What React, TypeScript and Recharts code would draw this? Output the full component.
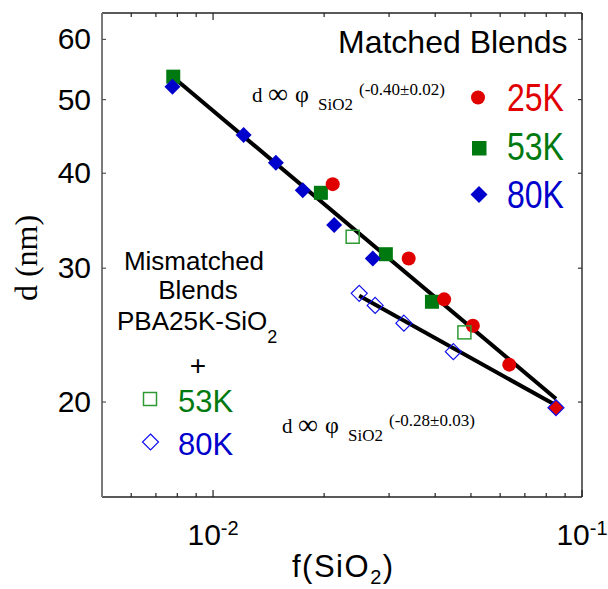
import React from "react";
import { ScatterChart, Scatter, XAxis, YAxis } from "recharts";

const W = 608;
const H = 589;
const SANS = "'Liberation Sans', Arial, sans-serif";
const SERIF = "'Liberation Serif', 'Times New Roman', serif";

const RED = "#e00000";
const GREEN = "#007a10";
const BLUE = "#0000cc";
const OPEN_GREEN = "#2f9a34";
const OPEN_BLUE = "#1010ee";

// matched blends (filled symbols)
const matched25K = [
  { phi: 0.0211, d: 38.7 },
  { phi: 0.0339, d: 30.9 },
  { phi: 0.0423, d: 27.3 },
  { phi: 0.0506, d: 25.2 },
  { phi: 0.0635, d: 22.4 },
];
const matched53K = [
  { phi: 0.0078, d: 53.6 },
  { phi: 0.0196, d: 37.7 },
  { phi: 0.0294, d: 31.3 },
  { phi: 0.0392, d: 27.1 },
];
const matched80K = [
  { phi: 0.00776, d: 52.0 },
  { phi: 0.0121, d: 44.9 },
  { phi: 0.0148, d: 41.3 },
  { phi: 0.0175, d: 38.0 },
  { phi: 0.0213, d: 34.2 },
  { phi: 0.0271, d: 30.9 },
];

// mismatched blends PBA25K-SiO2 + ... (open symbols)
const mismatched53K = [
  { phi: 0.0239, d: 33.0 },
  { phi: 0.048, d: 24.7 },
];
const mismatched80K = [
  { phi: 0.0249, d: 27.8 },
  { phi: 0.0275, d: 26.8 },
  { phi: 0.0329, d: 25.4 },
  { phi: 0.0448, d: 23.3 },
];
// shared end point of all series
const commonPoint = [{ phi: 0.085, d: 19.66 }];

// power-law fits
const matchedFit = [
  { phi: 0.0078, d: 53.5 },
  { phi: 0.085, d: 20.2 },
];
const mismatchedFit = [
  { phi: 0.0249, d: 27.6 },
  { phi: 0.085, d: 19.8 },
];

const xDomain = [0.005, 0.1];
const yDomain = [15, 65];
const xTicks = [0.006, 0.007, 0.008, 0.009, 0.01, 0.02, 0.03, 0.04, 0.05, 0.06, 0.07, 0.08, 0.09, 0.1];
const xMajorTicks = [0.01, 0.1];
const xMajorExponents = ["-2", "-1"];
const yTicks = [20, 30, 40, 50, 60];

const majorIndex = (v: number) => xMajorTicks.findIndex((t) => Math.abs(t - v) < 1e-9);

function BottomTick(props: any) {
  const { x, y, payload } = props;
  const i = majorIndex(payload.value);
  return (
    <g>
      <line x1={x} x2={x} y1={y} y2={y - (i >= 0 ? 7 : 4)} stroke="#222" strokeWidth={1.2} />
      {i >= 0 && (
        <text x={x} y={y + 48} textAnchor="middle" fontFamily={SANS} fontSize={30} fill="#000">
          10
          <tspan fontSize={20} dy={-10}>
            {xMajorExponents[i]}
          </tspan>
        </text>
      )}
    </g>
  );
}

function TopTick(props: any) {
  const { x, y, payload } = props;
  const major = majorIndex(payload.value) >= 0;
  return <line x1={x} x2={x} y1={y} y2={y + (major ? 7 : 4)} stroke="#222" strokeWidth={1.2} />;
}

function LeftTick(props: any) {
  const { x, y, payload } = props;
  return (
    <g>
      <line x1={x} x2={x + 4} y1={y} y2={y} stroke="#555" strokeWidth={1.2} />
      <text x={x - 11} y={y + 10} textAnchor="end" fontFamily={SANS} fontSize={30} fill="#000">
        {payload.value}
      </text>
    </g>
  );
}

function RightTick(props: any) {
  const { x, y } = props;
  return <line x1={x} x2={x - 4} y1={y} y2={y} stroke="#333" strokeWidth={1.2} />;
}

const diamond = (cx: number, cy: number, r: number) =>
  `${cx},${cy - r} ${cx + r},${cy} ${cx},${cy + r} ${cx - r},${cy}`;

const FilledCircle = (p: any) => <circle cx={p.cx} cy={p.cy} r={7} fill={RED} />;
const FilledSquare = (p: any) => <rect x={p.cx - 7} y={p.cy - 7} width={14} height={14} fill={GREEN} />;
const FilledDiamond = (p: any) => <polygon points={diamond(p.cx, p.cy, 8)} fill={BLUE} />;
const OpenSquare = (p: any) => (
  <rect x={p.cx - 6.5} y={p.cy - 6.5} width={13} height={13} fill="none" stroke={OPEN_GREEN} strokeWidth={1.5} />
);
const OpenDiamond = (p: any) => (
  <polygon points={diamond(p.cx, p.cy, 8)} fill="none" stroke={OPEN_BLUE} strokeWidth={1.2} />
);
const CommonMark = (p: any) => (
  <polygon points={diamond(p.cx, p.cy, 8)} fill={RED} stroke={OPEN_BLUE} strokeWidth={1.2} />
);
const NoMark = () => <g />;

function Equation({ x, y, exponent }: { x: number; y: number; exponent: string }) {
  return (
    <g fontFamily={SERIF} fill="#000">
      <text x={x} y={y} fontSize={21}>d</text>
      <text x={x + 16} y={y + 1} fontSize={28}>∞</text>
      <text x={x + 43} y={y} fontSize={24}>φ</text>
      <text x={x + 66} y={y + 8} fontSize={17}>SiO2</text>
      <text x={x + 107} y={y - 7} fontSize={17}>{exponent}</text>
    </g>
  );
}

function Annotations() {
  return (
    <svg width={W} height={H} style={{ position: "absolute", left: 0, top: 0, pointerEvents: "none" }}>
      {/* axis titles */}
      <text
        transform="translate(37,258) rotate(-90)"
        textAnchor="middle"
        fontFamily={SERIF}
        fontSize={32}
        fill="#000"
      >
        d (nm)
      </text>
      <text x={292} y={577} fontFamily={SANS} fontSize={31} letterSpacing={1.5} fill="#000">
        f(SiO
        <tspan fontSize={20} dy={7}>
          2
        </tspan>
        <tspan dy={-7}>)</tspan>
      </text>

      {/* matched legend */}
      <text x={338} y={53} fontFamily={SANS} fontSize={32} fill="#000">
        Matched Blends
      </text>
      <circle cx={478} cy={97.5} r={7} fill={RED} />
      <rect x={472} y={141} width={14.5} height={14.5} fill={GREEN} />
      <polygon points={diamond(479, 194.5, 8.5)} fill={BLUE} />
      <text transform="translate(507,111) scale(1,1.2)" fontFamily={SANS} fontSize={32} fill={RED}>
        25K
      </text>
      <text transform="translate(507,160) scale(1,1.2)" fontFamily={SANS} fontSize={32} fill={GREEN}>
        53K
      </text>
      <text transform="translate(507,208) scale(1,1.2)" fontFamily={SANS} fontSize={32} fill={BLUE}>
        80K
      </text>

      {/* mismatched legend */}
      <text x={194} y={270} textAnchor="middle" fontFamily={SANS} fontSize={26} fill="#000">
        Mismatched
      </text>
      <text x={198} y={299} textAnchor="middle" fontFamily={SANS} fontSize={26} fill="#000">
        Blends
      </text>
      <text x={117} y={330} fontFamily={SANS} fontSize={26} fill="#000">
        PBA25K-SiO
        <tspan fontSize={18} dy={13}>
          2
        </tspan>
      </text>
      <text x={198} y={375} textAnchor="middle" fontFamily={SANS} fontSize={28} fill="#000">
        +
      </text>
      <rect x={143.5} y={392.5} width={13} height={13} fill="none" stroke={OPEN_GREEN} strokeWidth={1.5} />
      <text x={178} y={412} fontFamily={SANS} fontSize={31} fill={GREEN}>
        53K
      </text>
      <polygon points={diamond(150.5, 442, 8)} fill="none" stroke={OPEN_BLUE} strokeWidth={1.2} />
      <text x={178} y={455} fontFamily={SANS} fontSize={31} fill={BLUE}>
        80K
      </text>

      {/* fit equations */}
      <Equation x={252} y={102} exponent="(-0.40±0.02)" />
      <Equation x={282} y={433} exponent="(-0.28±0.03)" />
    </svg>
  );
}

export default function App() {
  return (
    <div style={{ position: "fixed", left: 0, top: 0, width: W, height: H, background: "#fff" }}>
      <ScatterChart width={W} height={H} margin={{ top: 0, right: 0, bottom: 0, left: 0 }}>
        <XAxis
          xAxisId="bottom"
          dataKey="phi"
          type="number"
          scale="log"
          domain={xDomain}
          allowDataOverflow
          ticks={xTicks}
          interval={0}
          height={92}
          tickSize={0}
          tickMargin={0}
          tickLine={false}
          tick={<BottomTick />}
          axisLine={{ stroke: "#222", strokeWidth: 1.5 }}
        />
        <XAxis
          xAxisId="top"
          orientation="top"
          dataKey="phi"
          type="number"
          scale="log"
          domain={xDomain}
          allowDataOverflow
          ticks={xTicks}
          interval={0}
          height={13}
          tickSize={0}
          tickMargin={0}
          tickLine={false}
          tick={<TopTick />}
          axisLine={{ stroke: "#222", strokeWidth: 1.5 }}
        />
        <YAxis
          yAxisId="left"
          dataKey="d"
          type="number"
          scale="log"
          domain={yDomain}
          allowDataOverflow
          ticks={yTicks}
          interval={0}
          width={102}
          tickSize={0}
          tickMargin={0}
          tickLine={false}
          tick={<LeftTick />}
          axisLine={{ stroke: "#7a7a7a", strokeWidth: 2 }}
        />
        <YAxis
          yAxisId="right"
          orientation="right"
          dataKey="d"
          type="number"
          scale="log"
          domain={yDomain}
          allowDataOverflow
          ticks={yTicks}
          interval={0}
          width={26}
          tickSize={0}
          tickMargin={0}
          tickLine={false}
          tick={<RightTick />}
          axisLine={{ stroke: "#333", strokeWidth: 1.5 }}
        />

        <Scatter
          data={matchedFit}
          xAxisId="top"
          yAxisId="right"
          line={{ stroke: "#000", strokeWidth: 4 }}
          shape={NoMark}
          isAnimationActive={false}
        />
        <Scatter
          data={mismatchedFit}
          xAxisId="top"
          yAxisId="right"
          line={{ stroke: "#000", strokeWidth: 4 }}
          shape={NoMark}
          isAnimationActive={false}
        />

        <Scatter data={matched53K} xAxisId="bottom" yAxisId="left" shape={FilledSquare} isAnimationActive={false} />
        <Scatter data={matched25K} xAxisId="bottom" yAxisId="left" shape={FilledCircle} isAnimationActive={false} />
        <Scatter data={matched80K} xAxisId="bottom" yAxisId="left" shape={FilledDiamond} isAnimationActive={false} />
        <Scatter data={mismatched53K} xAxisId="bottom" yAxisId="left" shape={OpenSquare} isAnimationActive={false} />
        <Scatter data={mismatched80K} xAxisId="bottom" yAxisId="left" shape={OpenDiamond} isAnimationActive={false} />
        <Scatter data={commonPoint} xAxisId="bottom" yAxisId="left" shape={CommonMark} isAnimationActive={false} />
      </ScatterChart>
      <Annotations />
    </div>
  );
}
